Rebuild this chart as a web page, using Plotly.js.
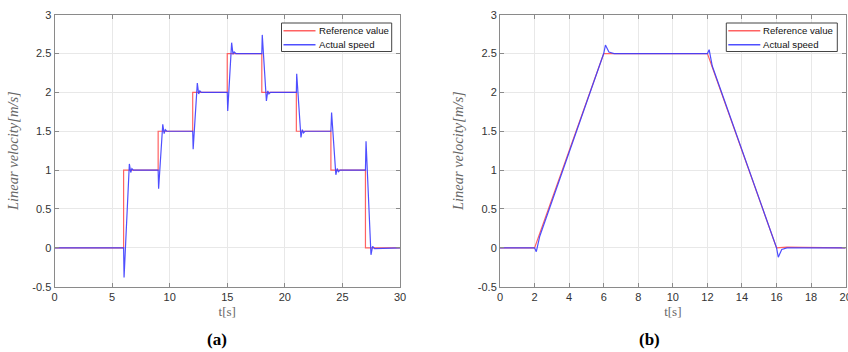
<!DOCTYPE html>
<html>
<head>
<meta charset="utf-8">
<script src="https://cdn.plot.ly/plotly-3.0.1.min.js"></script>
<style>html,body{margin:0;padding:0;background:#fff;}#chart{width:848px;height:352px;}</style>
</head>
<body>
<div id="chart"></div>
<script>
// ---- Data: panel (a) step reference ----
const refA_t = [0, 6, 6, 9, 9, 12, 12, 15, 15, 18, 18, 21, 21, 24, 24, 27, 27, 30];
const refA_v = [0, 0, 1, 1, 1.5, 1.5, 2, 2, 2.5, 2.5, 2, 2, 1.5, 1.5, 1, 1, 0, 0];
// ---- panel (a) actual speed ----
const actA_t = [0, 6.0, 6.04, 6.5, 6.62, 6.72, 6.85, 9.0, 9.04, 9.4, 9.52, 9.62, 9.75,
  12.0, 12.04, 12.4, 12.52, 12.62, 12.75, 15.0, 15.04, 15.38, 15.5, 15.6, 15.75,
  18.0, 18.04, 18.4, 18.52, 18.62, 18.75, 21.0, 21.03, 21.4, 21.52, 21.62, 21.75,
  24.0, 24.06, 24.43, 24.55, 24.65, 24.8, 27.0, 27.05, 27.48, 27.62, 27.8, 30];
const actA_v = [0, 0, -0.38, 1.08, 0.97, 1.02, 1.0, 1.0, 0.76, 1.59, 1.47, 1.52, 1.5,
  1.5, 1.27, 2.12, 1.98, 2.02, 2.0, 2.0, 1.76, 2.64, 2.49, 2.52, 2.5,
  2.5, 2.74, 1.89, 2.02, 1.98, 2.0, 2.0, 2.24, 1.42, 1.52, 1.48, 1.5,
  1.5, 1.74, 0.94, 1.02, 0.98, 1.0, 1.0, 1.37, -0.09, 0.02, -0.01, 0];
// ---- panel (b) trapezoid reference ----
const refB_t = [0, 2, 6, 12, 16, 16.6, 17.5, 20];
const refB_v = [0, 0, 2.5, 2.5, 0, 0.01, 0.005, 0];
// ---- panel (b) actual speed ----
const actB_t = [0, 2.0, 2.1, 2.3, 6.0, 6.1, 6.3, 6.6, 12.0, 12.1, 12.28, 16.0, 16.1, 16.3, 16.6, 20];
const actB_v = [0, 0, -0.05, 0.15, 2.5, 2.61, 2.52, 2.5, 2.5, 2.55, 2.34, 0.0, -0.12, -0.02, 0, 0];
// ---- ticks ----
const yTicks = [-0.5, 0, 0.5, 1, 1.5, 2, 2.5, 3];
const yTickText = ['-0.5', '0', '0.5', '1', '1.5', '2', '2.5', '3'];
const xTicksA = [0, 5, 10, 15, 20, 25, 30];
const xTicksB = [0, 2, 4, 6, 8, 10, 12, 14, 16, 18, 20];
const seriesNames = ['Reference value', 'Actual speed'];
const panelLabels = ['(a)', '(b)'];

const RED = 'rgba(255,90,90,0.95)';
const BLUE = 'rgba(60,60,255,0.9)';
const COLORS = [RED, BLUE];

const traces = [
  {x: refA_t, y: refA_v, mode: 'lines', name: seriesNames[0], line: {color: RED, width: 1.2}, xaxis: 'x', yaxis: 'y', showlegend: false},
  {x: actA_t, y: actA_v, mode: 'lines', name: seriesNames[1], line: {color: BLUE, width: 1.2}, xaxis: 'x', yaxis: 'y', showlegend: false},
  {x: refB_t, y: refB_v, mode: 'lines', name: seriesNames[0], line: {color: RED, width: 1.2}, xaxis: 'x2', yaxis: 'y2', showlegend: false},
  {x: actB_t, y: actB_v, mode: 'lines', name: seriesNames[1], line: {color: BLUE, width: 1.2}, xaxis: 'x2', yaxis: 'y2', showlegend: false}
];

const tickFont = {family: 'Liberation Sans, Arial, sans-serif', size: 11, color: '#333'};
const common = {
  showline: true, linecolor: '#8a8a8a', linewidth: 1, mirror: 'ticks',
  ticks: 'inside', ticklen: 4, tickcolor: '#8a8a8a', tickwidth: 1,
  showgrid: true, gridcolor: '#e8e8e8', gridwidth: 1, zeroline: false,
  tickfont: tickFont, fixedrange: true, ticklabeloverflow: 'allow'
};
const yDom = [1 - 286.7/352, 1 - 14.7/352];
const xTitleFont = {family: 'Liberation Serif, DejaVu Serif, serif', size: 13, color: '#666'};
const yTitleFont = {family: 'Liberation Serif, DejaVu Serif, serif', size: 14.5, color: '#666', style: 'italic'};

function yaxisDef(anchor) {
  return Object.assign({}, common, {
    domain: yDom, range: [-0.5, 3], tickvals: yTicks, ticktext: yTickText, anchor: anchor,
    title: {text: 'Linear velocity[m/s]', font: yTitleFont, standoff: 10}
  });
}
function xaxisDef(dom, range, ticks, anchor) {
  return Object.assign({}, common, {
    domain: dom, range: range, tickvals: ticks, anchor: anchor,
    title: {text: 't[s]', font: xTitleFont, standoff: 4}
  });
}

// ---- legend boxes drawn as shapes + annotations (paper pixels) ----
const W = 848, H = 352;
const px = v => v / W, py = v => 1 - v / H;
const legends = [{x0: 281.5, x1: 391.7, y0: 23, y1: 51.5}, {x0: 726.3, x1: 837.3, y0: 23, y1: 51.5}];
const shapes = [];
const annotations = [];
legends.forEach(L => {
  shapes.push({type: 'rect', xref: 'paper', yref: 'paper', x0: px(L.x0), x1: px(L.x1), y0: py(L.y0), y1: py(L.y1),
    line: {color: '#444', width: 1}, fillcolor: '#fff', layer: 'above'});
  seriesNames.forEach((nm, i) => {
    const yy = L.y0 + 7.8 + i * 14;
    shapes.push({type: 'line', xref: 'paper', yref: 'paper', x0: px(L.x0 + 2), x1: px(L.x0 + 34), y0: py(yy), y1: py(yy),
      line: {color: COLORS[i], width: 1.5}, layer: 'above'});
    annotations.push({text: nm, xref: 'paper', yref: 'paper', x: px(L.x0 + 35), y: py(yy), xanchor: 'left', yanchor: 'middle',
      showarrow: false, font: {family: 'Liberation Sans, Arial, sans-serif', size: 9.6, color: '#111'}});
  });
});
annotations.push(
  {text: '<b>' + panelLabels[0] + '</b>', x: px(217), y: py(339), xref: 'paper', yref: 'paper', xanchor: 'center', yanchor: 'middle',
    showarrow: false, font: {family: 'Liberation Serif, DejaVu Serif, serif', size: 17, color: '#000'}},
  {text: '<b>' + panelLabels[1] + '</b>', x: px(649), y: py(339), xref: 'paper', yref: 'paper', xanchor: 'center', yanchor: 'middle',
    showarrow: false, font: {family: 'Liberation Serif, DejaVu Serif, serif', size: 17, color: '#000'}}
);

const layout = {
  width: W, height: H,
  margin: {l: 0, r: 0, t: 0, b: 0},
  paper_bgcolor: '#fff', plot_bgcolor: '#fff',
  showlegend: false,
  xaxis: xaxisDef([54.5/W, 400/W], [0, 30], xTicksA, 'y'),
  yaxis: yaxisDef('x'),
  xaxis2: xaxisDef([500/W, 845.7/W], [0, 20], xTicksB, 'y2'),
  yaxis2: yaxisDef('x2'),
  shapes: shapes,
  annotations: annotations
};
Plotly.newPlot('chart', traces, layout, {staticPlot: true, displayModeBar: false});
</script>
</body>
</html>
